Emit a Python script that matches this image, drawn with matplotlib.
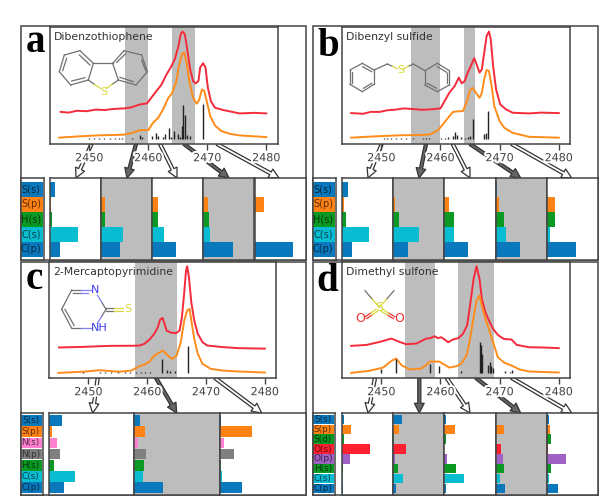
import matplotlib
matplotlib.use('Agg')
import matplotlib.pyplot as plt
import matplotlib.patheffects as pe
from matplotlib.patches import FancyArrowPatch, Rectangle

# spectra: energy (eV) and intensity (%)
a_red_x = [2445.15, 2446.5, 2447.9, 2449.5, 2451.2, 2452.6, 2454.1, 2456.0, 2457.2, 2458.6, 2459.8, 2460.5, 2461.4, 2462.2, 2463.1, 2463.8, 2464.5, 2465.1, 2465.5, 2465.8, 2466.2, 2466.6, 2467.1, 2467.6, 2468, 2468.5, 2468.8, 2469.3, 2469.7, 2470.1, 2470.6, 2471.3, 2472.7, 2475.5, 2478, 2480]
a_red_y = [27, 26.4, 28, 27.6, 29, 28.6, 29.5, 30, 31, 33.4, 34.3, 39, 45, 50, 59, 65, 72, 83, 93.4, 95.7, 93.4, 80.6, 63.4, 53.4, 51.4, 53.4, 65, 68.6, 65, 47.7, 36.3, 30.6, 28.6, 25.7, 26.2, 25.7]
a_or_x = [2444.9, 2447.9, 2451.8, 2455.8, 2457.2, 2458.6, 2460, 2460.8, 2461.7, 2462.5, 2463.4, 2464, 2464.7, 2465.2, 2465.7, 2466.1, 2466.5, 2467, 2467.6, 2468.2, 2468.6, 2469.1, 2469.5, 2469.9, 2470.5, 2471.3, 2472.4, 2473.8, 2475.5, 2480]
a_or_y = [5, 6, 7, 7.5, 9, 11.4, 11.4, 17.7, 22, 29.1, 39, 42.6, 52, 66.3, 76.3, 77.7, 69, 52, 39, 34, 37, 46.3, 44.9, 36.3, 23.4, 15.4, 10.6, 8.3, 6.9, 5.5]
a_st_x = [2450, 2450.8, 2451.7, 2452.5, 2453.5, 2454.3, 2455.1, 2455.6, 2457.3, 2458.6, 2458.9, 2460.7, 2461.3, 2461.7, 2462.5, 2462.9, 2463.5, 2463.8, 2464.3, 2465.1, 2465.3, 2465.7, 2465.9, 2466.2, 2466.5, 2467.1, 2469.3]
a_st_h = [1, 1, 1, 1, 1, 1, 1, 1, 0.6, 3, 1.2, 2, 4.6, 2.3, 1.2, 4.3, 9, 1.7, 6.3, 4, 1.7, 11, 29, 20, 3, 2.3, 30]

b_red_x = [2444.9, 2446.9, 2448.2, 2449.7, 2451, 2452.5, 2453.8, 2455.3, 2456.8, 2458.2, 2460, 2460.7, 2461.5, 2462.4, 2463.1, 2463.6, 2464.1, 2464.6, 2465.2, 2465.7, 2466.1, 2466.6, 2467, 2467.4, 2467.8, 2468.2, 2468.5, 2468.9, 2469.4, 2470.1, 2471.1, 2472.2, 2475, 2477, 2480]
b_red_y = [26, 25.4, 27, 27, 28.4, 29, 30, 29.5, 28.8, 29.1, 30, 36.3, 43.4, 49.1, 56.3, 51.4, 53.4, 60.6, 66.9, 72.9, 67.7, 60.6, 63.4, 77.7, 92, 95.7, 89.1, 66.3, 46.3, 33.4, 29.1, 26.3, 25.7, 26.4, 26]
b_or_x = [2444.9, 2448.5, 2453.1, 2457, 2458.2, 2459.6, 2460.4, 2461.3, 2462.1, 2462.7, 2463.8, 2464.5, 2465, 2465.5, 2465.9, 2466.6, 2467, 2467.4, 2467.8, 2468.2, 2468.6, 2469.1, 2470, 2470.8, 2472.2, 2475, 2480]
b_or_y = [5, 6, 7, 7.3, 7.7, 11.4, 16.3, 22, 26.9, 27.4, 27.7, 36.3, 45.7, 47.4, 44, 39, 43.4, 55, 62.9, 62, 50.6, 32, 19.1, 13.4, 9.1, 5.7, 5]
b_st_x = [2450.4, 2451, 2451.7, 2452.5, 2453.4, 2454.2, 2455.3, 2457, 2457.5, 2458, 2460.1, 2460.7, 2461.3, 2462.1, 2462.5, 2462.8, 2463.4, 2464.2, 2464.7, 2465, 2465.5, 2467.4, 2467.7, 2468.1]
b_st_h = [0.8, 0.8, 0.8, 0.8, 0.8, 0.8, 0.8, 0.8, 0.8, 0.8, 1, 1, 1.2, 2, 6, 3, 1.5, 1, 1.5, 2.5, 17, 4, 5, 24]

c_red_x = [2445, 2449.1, 2453.6, 2457.6, 2458.7, 2459.5, 2460.4, 2461.2, 2461.8, 2462.2, 2462.6, 2462.9, 2463.3, 2464, 2464.9, 2465.5, 2465.9, 2466.3, 2466.6, 2466.8, 2467.1, 2467.5, 2468, 2468.6, 2469.4, 2470.2, 2472.8, 2475.6, 2480]
c_red_y = [26, 26.5, 27.4, 27.5, 27.7, 29.1, 32.9, 37.8, 43.5, 50.1, 51.6, 47.3, 40.6, 38.9, 38.3, 40.6, 52.2, 73.8, 92.5, 96.3, 86.7, 65.1, 49.3, 37.8, 30.6, 27.7, 26.3, 25.4, 25]
c_or_x = [2444.9, 2449.1, 2451.9, 2455.3, 2457.3, 2458.7, 2459.5, 2460.4, 2461.2, 2462, 2462.6, 2463.1, 2463.8, 2464.3, 2465, 2465.7, 2466.3, 2466.8, 2467.2, 2467.5, 2468, 2468.6, 2469.4, 2470.8, 2472.8, 2475.6, 2480]
c_or_y = [4, 5, 6.3, 5, 6, 9.8, 11, 13.8, 19, 21.3, 23.3, 21.3, 17.6, 16.1, 19, 30.5, 49.3, 58, 59.4, 49.3, 33.4, 20.5, 11.8, 7.5, 6, 5.2, 4.3]
c_st_x = [2449.1, 2452, 2452.9, 2453.9, 2455, 2456.2, 2457, 2458.1, 2459, 2459.6, 2460.4, 2462.5, 2463.3, 2463.9, 2464.7, 2467]
c_st_h = [1, 1, 1, 1, 1, 1, 1, 1, 1, 1, 1, 12, 2.3, 1.5, 1.5, 23]

d_red_x = [2444.9, 2447.5, 2449.7, 2451.7, 2453.1, 2454.2, 2455.9, 2457.6, 2458.2, 2459, 2459.6, 2460.1, 2460.7, 2461.3, 2462.1, 2463, 2463.8, 2464.5, 2465, 2465.6, 2466.1, 2466.6, 2467, 2467.6, 2468.2, 2468.9, 2469.7, 2470.7, 2472, 2472.9, 2475, 2477.9, 2480]
d_red_y = [27.4, 28.2, 30.8, 33.7, 30.8, 28.8, 29.4, 33.7, 34, 35.7, 34, 34.9, 32.9, 30.5, 32.9, 34, 37.8, 45, 62.2, 85.3, 96.3, 85.3, 68, 56.5, 49.3, 42, 36.9, 33.4, 32.9, 28.2, 26.2, 25.9, 25.4]
d_or_x = [2444.9, 2448, 2450.3, 2451.7, 2452.5, 2453.4, 2454.8, 2456.8, 2457.6, 2458.2, 2459.8, 2460.7, 2461.5, 2462.7, 2463.5, 2464.4, 2464.9, 2465.6, 2466.1, 2466.6, 2467, 2467.6, 2468.2, 2468.9, 2469.7, 2470.8, 2472, 2473.4, 2475, 2480]
d_or_y = [4, 5.8, 8.6, 14.4, 16.4, 10.7, 6.9, 7.8, 11, 13.8, 13.8, 11, 8.6, 9.8, 11.8, 19, 30.5, 52.2, 66.6, 70.9, 62.2, 50.7, 42, 30.5, 17.6, 12.7, 10.4, 6.9, 5.2, 4.3]
d_st_x = [2449.9, 2452.5, 2458.3, 2459.7, 2463.5, 2466.6, 2466.8, 2467, 2468.1, 2468.3, 2468.5, 2468.9, 2470.9, 2471.7, 2472.1]
d_st_h = [3, 12, 7.5, 6.3, 1.4, 27, 24.5, 16, 7.2, 9.2, 5.8, 4.3, 1.2, 0.9, 2.9]

# shaded energy windows
a_shade = [(2456.1, 2460), (2464, 2468)]
b_shade = [(2455.1, 2460), (2464, 2465.9)]
c_shade = [(2458, 2465)]
d_shade = [(2454, 2459), (2463, 2469)]

# orbital shares per energy window (%)
a_orbs = ['S(s)', 'S(p)', 'H(s)', 'C(s)', 'C(p)']
a_bars = [[11, 3, 5, 55, 21], [0, 7, 7, 43, 37], [0, 11, 11, 24, 48], [0, 9, 12, 13, 59], [0, 18, 0, 0, 75]]
b_orbs = ['S(s)', 'S(p)', 'H(s)', 'C(s)', 'C(p)']
b_bars = [[11, 3, 8, 52, 20], [0, 3, 12, 50, 28], [0, 9, 18, 18, 47], [3, 7, 16, 20, 48], [0, 16, 16, 5, 57]]
c_orbs = ['S(s)', 'S(p)', 'N(s)', 'N(p)', 'H(s)', 'C(s)', 'C(p)']
c_bars = [[15.6, 3, 9, 13, 5.5, 30, 18], [6.6, 12.5, 4, 14, 11.7, 10, 34], [1.2, 38, 4.7, 17, 1.6, 2.7, 26]]
d_orbs = ['S(s)', 'S(p)', 'S(d)', 'O(s)', 'O(p)', 'H(s)', 'C(s)', 'C(p)']
d_bars = [[3, 18, 3, 54, 15, 2, 1, 1], [18, 12, 2, 24, 3, 10, 20, 5], [3, 20, 3, 0, 5, 22, 39, 4], [1, 17, 1, 10, 15, 17, 8, 18], [3, 6, 8, 1, 37, 8, 4, 22]]

orb_colors = {'S(s)': '#0a78bc', 'S(p)': '#ff8214', 'S(d)': '#0a9a24', 'H(s)': '#0a9a24', 'C(s)': '#08bcd2',
              'C(p)': '#0a78bc', 'N(s)': '#ff7fd0', 'N(p)': '#808080', 'O(s)': '#ff2030', 'O(p)': '#9f62c4'}

names = ['Dibenzothiophene', 'Dibenzyl sulfide', '2-Mercaptopyrimidine', 'Dimethyl sulfone']
ticks = [2450, 2460, 2470, 2480]

GRAY = '#bdbdbd'
EDGE = '#444444'
YEL = '#d8d83c'
BLUE = '#3c3cf0'
RED = '#f03030'

fig = plt.figure(figsize=(6.0, 4.96), dpi=100)


def px_axes(x0, y0, x1, y1, z=2):
    return fig.add_axes([x0 / 600, 1 - y1 / 496, (x1 - x0) / 600, (y1 - y0) / 496], zorder=z)


under = px_axes(0, 0, 600, 496, 1)
top = px_axes(0, 0, 600, 496, 5)
for o in (under, top):
    o.set_xlim(0, 600)
    o.set_ylim(496, 0)
    o.axis('off')
top.patch.set_alpha(0)


def spectrum(box, name, rx, ry, ox, oy, sx, sh, shade):
    ax = px_axes(*box)
    for lo, hi in shade:
        ax.axvspan(lo, hi, color=GRAY, lw=0)
    ax.plot(rx, ry, color='#f52a3a', lw=1.4, solid_joinstyle='round')
    ax.plot(ox, oy, color='#ff8c1a', lw=1.4, solid_joinstyle='round')
    ax.vlines(sx, 4, [4 + h for h in sh], color='#222222', lw=1)
    ax.set_xlim(2443.3, 2481.9)
    ax.set_ylim(0, 100)
    ax.set_yticks([])
    ax.set_xticks(ticks)
    ax.tick_params(axis='x', length=4, width=1, color=EDGE, labelcolor=EDGE, labelsize=8, pad=3)
    for lab in ax.get_xticklabels():
        lab.set_path_effects([pe.withStroke(linewidth=3, foreground='white')])
    for s in ax.spines.values():
        s.set_color(EDGE)
        s.set_linewidth(1.1)
    ax.text(0.02, 0.91, name, transform=ax.transAxes, fontsize=7.8, color='#333333', va='center')
    return ax


def bars(x_edges, y0, y1, orbs, vals, gray_cols):
    n = len(orbs)
    for i, v in enumerate(vals):
        ax = px_axes(x_edges[i], y0, x_edges[i + 1], y1)
        if i in gray_cols:
            ax.set_facecolor(GRAY)
        ax.barh(range(n), v, height=0.96, color=[orb_colors[o] for o in orbs])
        ax.set_xlim(0, 100)
        ax.set_ylim(n - 0.5 + 0.9 / n, -0.5 - 1.3 / n)
        ax.set_xticks([])
        ax.set_yticks([])
        for s in ax.spines.values():
            s.set_color(EDGE)
            s.set_linewidth(1.1)


def legend(x0, x1, y0, y1, orbs):
    ax = px_axes(x0, y0, x1, y1)
    n = len(orbs)
    ax.barh(range(n), [1] * n, height=0.96, color=[orb_colors[o] for o in orbs])
    size = 7 if n < 6 else 6.4
    for i, o in enumerate(orbs):
        ax.text(0.46, i, o, ha='center', va='center', fontsize=size, color='black', alpha=0.65)
    ax.set_xlim(0, 1.05)
    ax.set_ylim(n - 0.5 + 0.9 / n, -0.5 - 1.3 / n)
    ax.set_xticks([])
    ax.set_yticks([])
    for s in ax.spines.values():
        s.set_color(EDGE)
        s.set_linewidth(1.1)


def arrow(p0, p1, shaded):
    under.add_patch(FancyArrowPatch(p0, p1, arrowstyle='simple,head_length=7,head_width=7,tail_width=2.2',
                                    mutation_scale=1, fc='#666666' if shaded else 'white', ec='#333333', lw=0.9,
                                    shrinkA=0, shrinkB=0))


def bond(p, q, ox, oy, c='#707070', c2=None):
    x0, y0, x1, y1 = ox + p[0] / 3, oy + p[1] / 3, ox + q[0] / 3, oy + q[1] / 3
    if c2 is None:
        top.plot([x0, x1], [y0, y1], color=c, lw=0.9)
    else:
        xm, ym = (x0 + x1) / 2, (y0 + y1) / 2
        top.plot([x0, xm], [y0, ym], color=c, lw=0.9)
        top.plot([xm, x1], [ym, y1], color=c2, lw=0.9)


def chain(points, ox, oy, closed=False):
    pts = points + points[:1] if closed else points
    for p, q in zip(pts[:-1], pts[1:]):
        bond(p, q, ox, oy)


def atom(txt, p, ox, oy, c, size=8):
    top.text(ox + p[0] / 3, oy + p[1] / 3, txt, color=c, fontsize=size, ha='center', va='center')


# outer frames
for x0, y0, x1, y1 in [(21, 26, 306, 260), (313, 26, 598, 260), (21, 262, 306, 495), (313, 262, 598, 495)]:
    under.add_patch(Rectangle((x0, y0), x1 - x0, y1 - y0, fc='white', ec=EDGE, lw=1.1))

spectrum((49.7, 26.5, 277.5, 143.5), names[0], a_red_x, a_red_y, a_or_x, a_or_y, a_st_x, a_st_h, a_shade)
spectrum((41.7 + 300, 26.5, 570, 143.5), names[1], b_red_x, b_red_y, b_or_x, b_or_y, b_st_x, b_st_h, b_shade)
spectrum((49, 262, 276, 377.5), names[2], c_red_x, c_red_y, c_or_x, c_or_y, c_st_x, c_st_h, c_shade)
spectrum((341.7, 262, 570, 377.5), names[3], d_red_x, d_red_y, d_or_x, d_or_y, d_st_x, d_st_h, d_shade)

bars([49.5, 101, 152, 203, 254.5, 306], 178, 259.5, a_orbs, a_bars, [1, 3])
bars([342, 393.3, 444.3, 495.5, 547, 598], 178, 259.5, b_orbs, b_bars, [1, 3])
bars([49, 134.3, 219.5, 306], 413, 494.5, c_orbs, c_bars, [1])
bars([342, 393.3, 444.3, 495.5, 547, 598], 413, 494.5, d_orbs, d_bars, [1, 3])

legend(21, 44, 178, 259.5, a_orbs)
legend(313, 336, 178, 259.5, b_orbs)
legend(21, 43, 413, 494.5, c_orbs)
legend(313, 335.5, 413, 494.5, d_orbs)

# arrows from energy windows down to the bar columns
for p0, p1, sh in [((91.5, 144), (76, 178), 0), ((136, 144), (127, 178), 1), ((160, 144), (177, 178), 0),
                   ((184, 144), (229, 178), 1), ((217, 144), (279, 178), 0),
                   ((381.7, 144), (368, 178), 0), ((426, 144), (419, 178), 1), ((452.7, 144), (470, 178), 0),
                   ((470, 144), (520.7, 178), 1), ((511.7, 144), (571.7, 178), 0),
                   ((97.7, 378), (92.7, 413), 0), ((156, 378), (176.7, 413), 1), ((215, 378), (261.7, 413), 0),
                   ((375, 378), (368, 413), 0), ((419.3, 378), (419.3, 413), 1), ((446.7, 378), (470, 413), 0),
                   ((476, 378), (520.7, 413), 1), ((511.7, 378), (571.7, 413), 0)]:
    arrow(p0, p1, sh)

# panel letters
for txt, x, y in [('a', 26, 52), ('b', 317, 56), ('c', 26, 289), ('d', 316, 291)]:
    top.text(x, y, txt, family='Liberation Serif', weight='bold', fontsize=28, color='black', va='baseline')

# dibenzothiophene
chain([(280, 190), (240, 152), (193, 165), (178, 215), (212, 255), (265, 240)], 0, 0, False)
bond((265, 240), (280, 190), 0, 0)
chain([(338, 190), (372, 152), (425, 165), (442, 215), (408, 255), (355, 240)], 0, 0, False)
bond((355, 240), (338, 190), 0, 0)
bond((280, 190), (338, 190), 0, 0)
bond((265, 240), (302, 266), 0, 0, '#707070', YEL)
bond((355, 240), (318, 266), 0, 0, '#707070', YEL)
for p, q in [((238, 165), (270, 195)), ((200, 175), (188, 212)), ((215, 243), (255, 233)),
             ((350, 187), (378, 160)), ((425, 180), (437, 212)), ((360, 232), (400, 245))]:
    bond(p, q, 0, 0)
atom('S', (310, 275), 0, 0, YEL)

# dibenzyl sulfide
chain([(187, 190), (222, 210), (222, 253), (187, 275), (150, 253), (150, 210)], 300, 0, True)
chain([(412, 190), (448, 212), (448, 255), (412, 275), (375, 255), (375, 212)], 300, 0, True)
chain([(222, 210), (262, 192)], 300, 0)
chain([(340, 192), (375, 212)], 300, 0)
bond((262, 192), (292, 206), 300, 0, '#707070', YEL)
bond((340, 192), (310, 206), 300, 0, '#707070', YEL)
for p, q in [((188, 200), (215, 215)), ((157, 215), (157, 250)), ((190, 265), (215, 250)),
             ((412, 200), (440, 217)), ((382, 250), (410, 265)), ((440, 250), (440, 220))]:
    bond(p, q, 300, 0)
atom('S', (301, 210), 300, 0, YEL)

# 2-mercaptopyrimidine
chain([(215, 120), (185, 178), (215, 235)], 0, 250)
bond((215, 120), (272, 120), 0, 250, '#707070', '#8080f0')
bond((215, 235), (272, 235), 0, 250, '#707070', '#8080f0')
bond((218, 128), (265, 128), 0, 250, '#707070', '#8080f0')
bond((195, 178), (222, 226), 0, 250)
bond((318, 178), (292, 135), 0, 250, '#707070', '#8080f0')
bond((318, 178), (292, 220), 0, 250, '#707070', '#8080f0')
bond((318, 173), (368, 173), 0, 250, '#707070', YEL)
bond((318, 183), (368, 183), 0, 250, '#707070', YEL)
atom('N', (285, 120), 0, 250, BLUE)
atom('NH', (297, 235), 0, 250, BLUE)
atom('S', (382, 178), 0, 250, YEL)

# dimethyl sulfone
bond((195, 122), (238, 172), 300, 250, '#707070', YEL)
bond((282, 122), (238, 172), 300, 250, '#707070', YEL)
bond((196, 200), (228, 178), 300, 250, RED, YEL)
bond((200, 206), (232, 184), 300, 250, RED, YEL)
bond((284, 200), (248, 178), 300, 250, RED, YEL)
bond((280, 206), (244, 184), 300, 250, RED, YEL)
atom('S', (238, 172), 300, 250, YEL, 9)
atom('O', (182, 207), 300, 250, RED, 9)
atom('O', (298, 207), 300, 250, RED, 9)

fig.savefig('out.png', dpi=100)
